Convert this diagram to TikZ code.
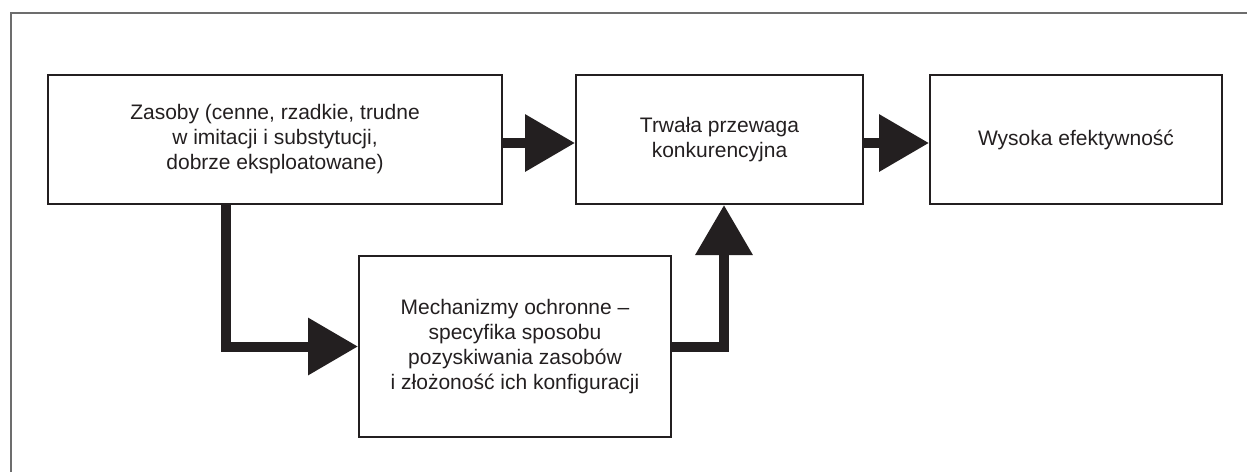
\documentclass[tikz,border=0pt]{standalone}
\usepackage{fontspec}
\setmainfont{Liberation Sans}
\usetikzlibrary{arrows.meta,positioning}
\definecolor{ink}{HTML}{231F20}
\definecolor{frame}{HTML}{6D6D6D}
\begin{document}
\begin{tikzpicture}[x=0.5pt,y=-0.5pt,
  box/.style={draw=ink,line width=1pt,align=center,inner sep=0pt,text=ink,
    font=\fontsize{10.5}{12.5}\selectfont},
  bigarrow/.style={draw=ink,line width=5pt,line join=miter,
    -{Triangle[length=25pt,width=27.5pt]}}]
  \useasboundingbox (0,0) rectangle (1247,472);
  \draw[frame,line width=1pt] (11,472) -- (11,13) -- (1247,13);

  \node[box,minimum width=227pt,minimum height=64.5pt] (zas) at (275,139.5)
    {Zasoby (cenne, rzadkie, trudne\\w imitacji i substytucji,\\dobrze eksploatowane)};
  \node[box,minimum width=143.5pt,minimum height=64.5pt] (trw) at (719.5,139.5)
    {Trwała przewaga\\konkurencyjna};
  \node[box,minimum width=146pt,minimum height=64.5pt] (wys) at (1076,139.5)
    {Wysoka efektywność};
  \node[box,minimum width=156pt,minimum height=90.5pt] (mech) at (515,346.5)
    {Mechanizmy ochronne --\\specyfika sposobu\\pozyskiwania zasobów\\i złożoność ich konfiguracji};

  \coordinate (k1) at (226,346);
  \coordinate (k2) at (724,346);

  \draw[bigarrow] ([yshift=-1.75pt]zas.east) -- ([yshift=-1.75pt]trw.west);
  \draw[bigarrow] ([yshift=-1.75pt]trw.east) -- ([yshift=-1.75pt]wys.west);
  \draw[bigarrow] (zas.south -| k1) |- (mech.west);
  \draw[bigarrow] (mech.east) -| (trw.south -| k2);
\end{tikzpicture}
\end{document}
